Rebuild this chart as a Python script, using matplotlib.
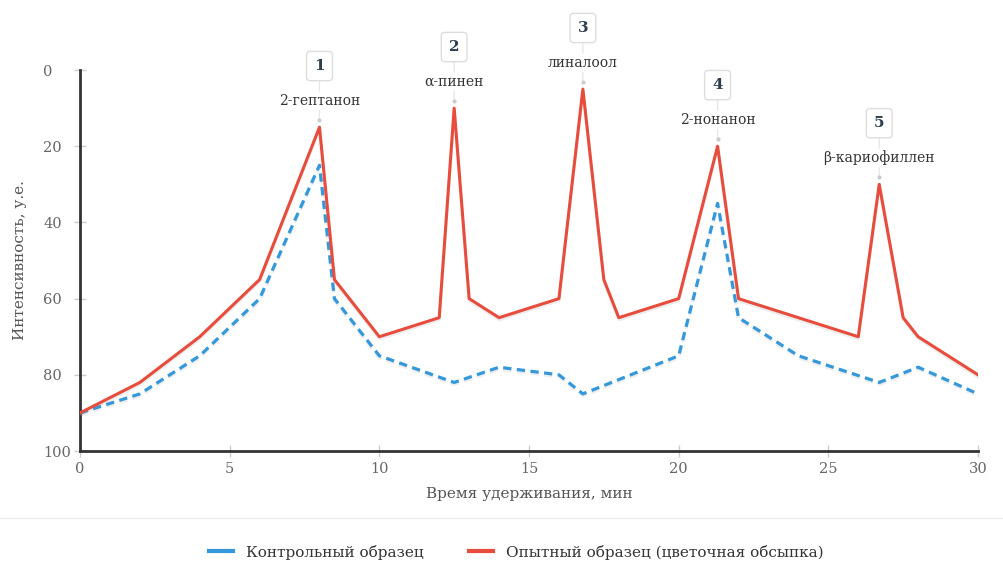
import matplotlib.pyplot as plt
import matplotlib.patheffects as pe
from matplotlib.lines import Line2D
from matplotlib.transforms import offset_copy

plt.rcParams['font.family'] = ['DejaVu Serif']

# контрольный образец
control_x = [0, 2, 4, 6, 8, 8.5, 10, 12.5, 14, 16, 16.8, 20, 21.3, 22, 24, 26.7, 28, 30]
control_y = [90, 85, 75, 60, 25, 60, 75, 82, 78, 80, 85, 75, 35, 65, 75, 82, 78, 85]

# опытный образец (цветочная обсыпка)
test_x = [0, 2, 4, 6, 8, 8.5, 10, 12, 12.5, 13, 14, 16, 16.8, 17.5, 18, 20, 21.3, 22, 26, 26.7, 27.5, 28, 30]
test_y = [90, 82, 70, 55, 15, 55, 70, 65, 10, 60, 65, 60, 5, 55, 65, 60, 20, 60, 70, 30, 65, 70, 80]

# пики
peak_x = [8, 12.5, 16.8, 21.3, 26.7]
peak_y = [15, 10, 5, 20, 30]
peak_num = ['1', '2', '3', '4', '5']
peak_name = ['2-гептанон', 'α-пинен', 'линалоол', '2-нонанон', 'β-кариофиллен']

blue = '#3498db'
red = '#e74c3c'

fig = plt.figure(figsize=(10.04, 5.63), dpi=100)
ax = fig.add_axes([0.0797, 0.1989, 0.8944, 0.6767])

shadow = [pe.SimpleLineShadow(offset=(0, -1.5), shadow_color='#888', alpha=0.15), pe.Normal()]
ax.plot(control_x, control_y, color=blue, lw=2.3, linestyle=(0, (2.6, 1.7)),
        path_effects=shadow, zorder=3)
ax.plot(test_x, test_y, color=red, lw=2.2, path_effects=shadow, zorder=4)

ax.set_xlim(0, 30)
ax.set_ylim(100, 0)
ax.set_xticks([0, 5, 10, 15, 20, 25, 30])
ax.set_yticks([0, 20, 40, 60, 80, 100])

for s in ['top', 'right']:
    ax.spines[s].set_visible(False)
for s in ['left', 'bottom']:
    ax.spines[s].set_color('#333333')
    ax.spines[s].set_linewidth(2)

ax.tick_params(axis='both', direction='inout', length=9, width=1, color='#cccccc',
               labelcolor='#666666', labelsize=10.5)
ax.tick_params(axis='y', pad=22)
for lab in ax.get_yticklabels():
    lab.set_ha('left')

ax.set_xlabel('Время удерживания, мин', fontsize=11, color='#555555', labelpad=8)
ax.set_ylabel('Интенсивность, у.е.', fontsize=11, color='#555555', labelpad=12)

# подписи пиков
for x, y, n, name in zip(peak_x, peak_y, peak_num, peak_name):
    # тонкие соединительные линии
    for y0, y1 in [(6, 12), (26, 36)]:
        ax.annotate('', xy=(x, y), xycoords='data', xytext=(0, y1), textcoords='offset points',
                    arrowprops=dict(arrowstyle='-', color='#e6e6e6', lw=0.9,
                                    shrinkA=0, shrinkB=y0))
    ax.plot([x], [y], marker='o', ms=2, color='#cccccc', zorder=5,
            transform=offset_copy(ax.transData, fig=fig, x=0, y=5, units='points'), clip_on=False)
    ax.annotate(name, xy=(x, y), xytext=(0, 19), textcoords='offset points',
                ha='center', va='center', fontsize=10, color='#333333', zorder=6,
                annotation_clip=False)
    ax.annotate(n, xy=(x, y), xytext=(0, 44), textcoords='offset points',
                ha='center', va='center', fontsize=11, fontweight='bold', color='#2c3e50',
                bbox=dict(boxstyle='round,pad=0.5,rounding_size=0.25', fc='white',
                          ec='#dddddd', lw=1),
                zorder=6, annotation_clip=False)

# разделитель над легендой
fig.add_artist(Line2D([0, 1], [0.08, 0.08], transform=fig.transFigure, color='#eeeeee', lw=1))

handles = [Line2D([0], [0], color=blue, lw=3), Line2D([0], [0], color=red, lw=3)]
fig.legend(handles, ['Контрольный образец', 'Опытный образец (цветочная обсыпка)'],
           loc='center', bbox_to_anchor=(0.514, 0.0195), ncol=2, frameon=False,
           fontsize=11, handlelength=1.6, columnspacing=3, labelcolor='#333333')

fig.savefig('out.png', dpi=100)
